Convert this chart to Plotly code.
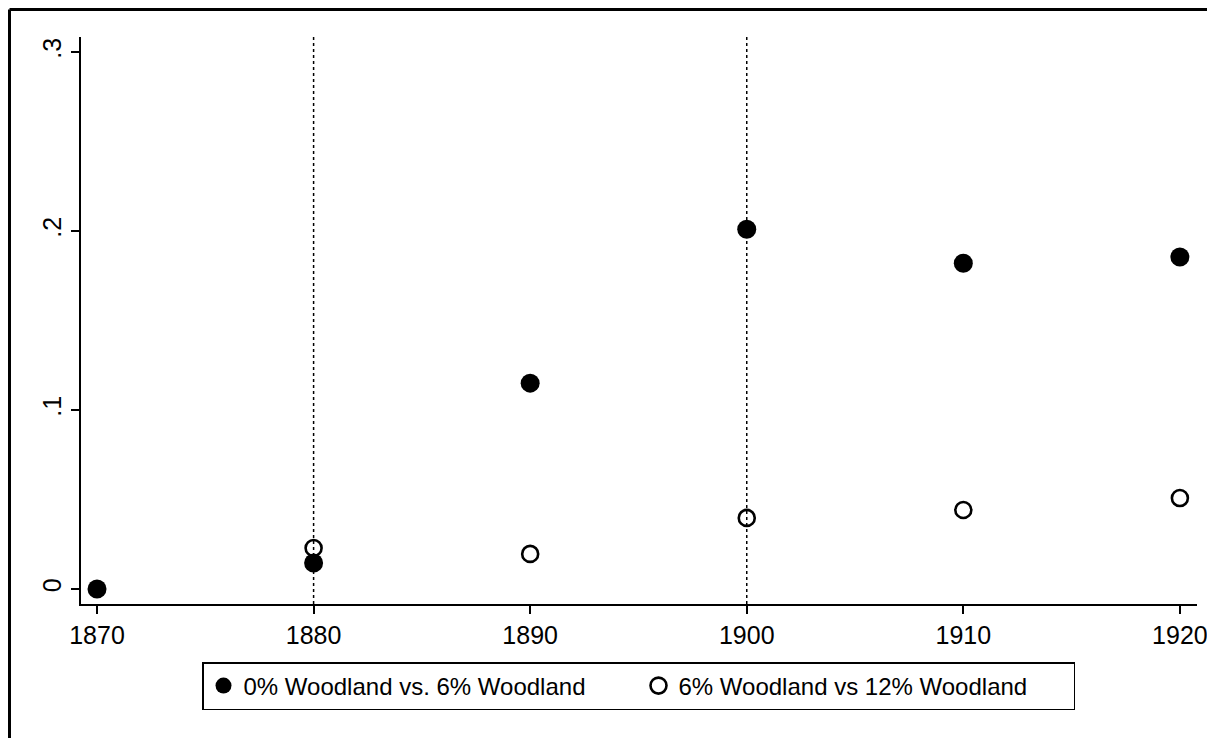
import plotly.graph_objects as go

# Survey years and estimated effects for the two woodland comparisons
years = [1870, 1880, 1890, 1900, 1910, 1920]
effect_0_vs_6 = [0.0, 0.0145, 0.115, 0.201, 0.182, 0.1855]
years_6_vs_12 = [1880, 1890, 1900, 1910, 1920]
effect_6_vs_12 = [0.0229, 0.0196, 0.0397, 0.0441, 0.0508]
reference_years = [1880, 1900]

x_ticks = [1870, 1880, 1890, 1900, 1910, 1920]
y_ticks = [0, 0.1, 0.2, 0.3]
y_tick_text = ["0", ".1", ".2", ".3"]

FONT = "Liberation Sans, Arial, sans-serif"

W, H = 1207, 738
L, R, T, B = 81, 10, 37, 134
pw, ph = W - L - R, H - T - B

fig = go.Figure()

fig.add_trace(go.Scatter(
    x=years, y=effect_0_vs_6, mode="markers",
    name="0% Woodland vs. 6% Woodland",
    marker=dict(symbol="circle", size=19, color="black", line=dict(width=0)),
))
fig.add_trace(go.Scatter(
    x=years_6_vs_12, y=effect_6_vs_12, mode="markers",
    name="6% Woodland vs 12% Woodland",
    marker=dict(symbol="circle-open", size=16, color="black", line=dict(width=2.6, color="black")),
))

shapes = []
for yr in reference_years:
    shapes.append(dict(type="line", xref="x", yref="paper", x0=yr, x1=yr, y0=0, y1=1,
                       line=dict(color="black", width=1.5, dash="dot"), layer="below"))

# Outer frame (left and top edges)
fx = (9.5 - L) / pw
fy_top = (H - B - 9.5) / ph
fy_bot = (H - B - H - 5) / ph
shapes.append(dict(type="line", xref="paper", yref="paper", x0=fx, x1=fx, y0=fy_bot, y1=fy_top,
                   line=dict(color="black", width=3)))
shapes.append(dict(type="line", xref="paper", yref="paper", x0=fx, x1=(W + 5 - L) / pw, y0=fy_top, y1=fy_top,
                   line=dict(color="black", width=3)))

fig.update_layout(
    width=W, height=H,
    margin=dict(l=L, r=R, t=T, b=B, pad=0, autoexpand=False),
    paper_bgcolor="white", plot_bgcolor="white",
    font=dict(family=FONT, color="black", size=24),
    showlegend=True,
    legend=dict(
        orientation="h", x=(638.5 - L) / pw, xanchor="center", y=(H - B - 662) / ph, yanchor="top",
        bordercolor="black", borderwidth=1.5, bgcolor="white",
        font=dict(family=FONT, size=24, color="black"),
        entrywidth=390, entrywidthmode="pixels",
        itemsizing="trace", traceorder="normal",
    ),
    shapes=shapes,
    xaxis=dict(
        range=[1869.26, 1920.79], tickmode="array", tickvals=x_ticks,
        showgrid=False, zeroline=False, automargin=False,
        showline=True, linecolor="black", linewidth=2,
        ticks="outside", ticklen=8, tickwidth=2, tickcolor="black",
        ticklabeloverflow="allow",
        tickfont=dict(family=FONT, size=25, color="black"),
    ),
    yaxis=dict(
        range=[-0.0084, 0.3084], tickmode="array", tickvals=y_ticks, ticktext=y_tick_text,
        showgrid=False, zeroline=False, automargin=False,
        showline=True, linecolor="black", linewidth=2,
        ticks="outside", ticklen=8, tickwidth=2, tickcolor="black",
        tickangle=-90, ticklabeloverflow="allow",
        tickfont=dict(family=FONT, size=25, color="black"),
    ),
)

fig.write_html("out.html")
